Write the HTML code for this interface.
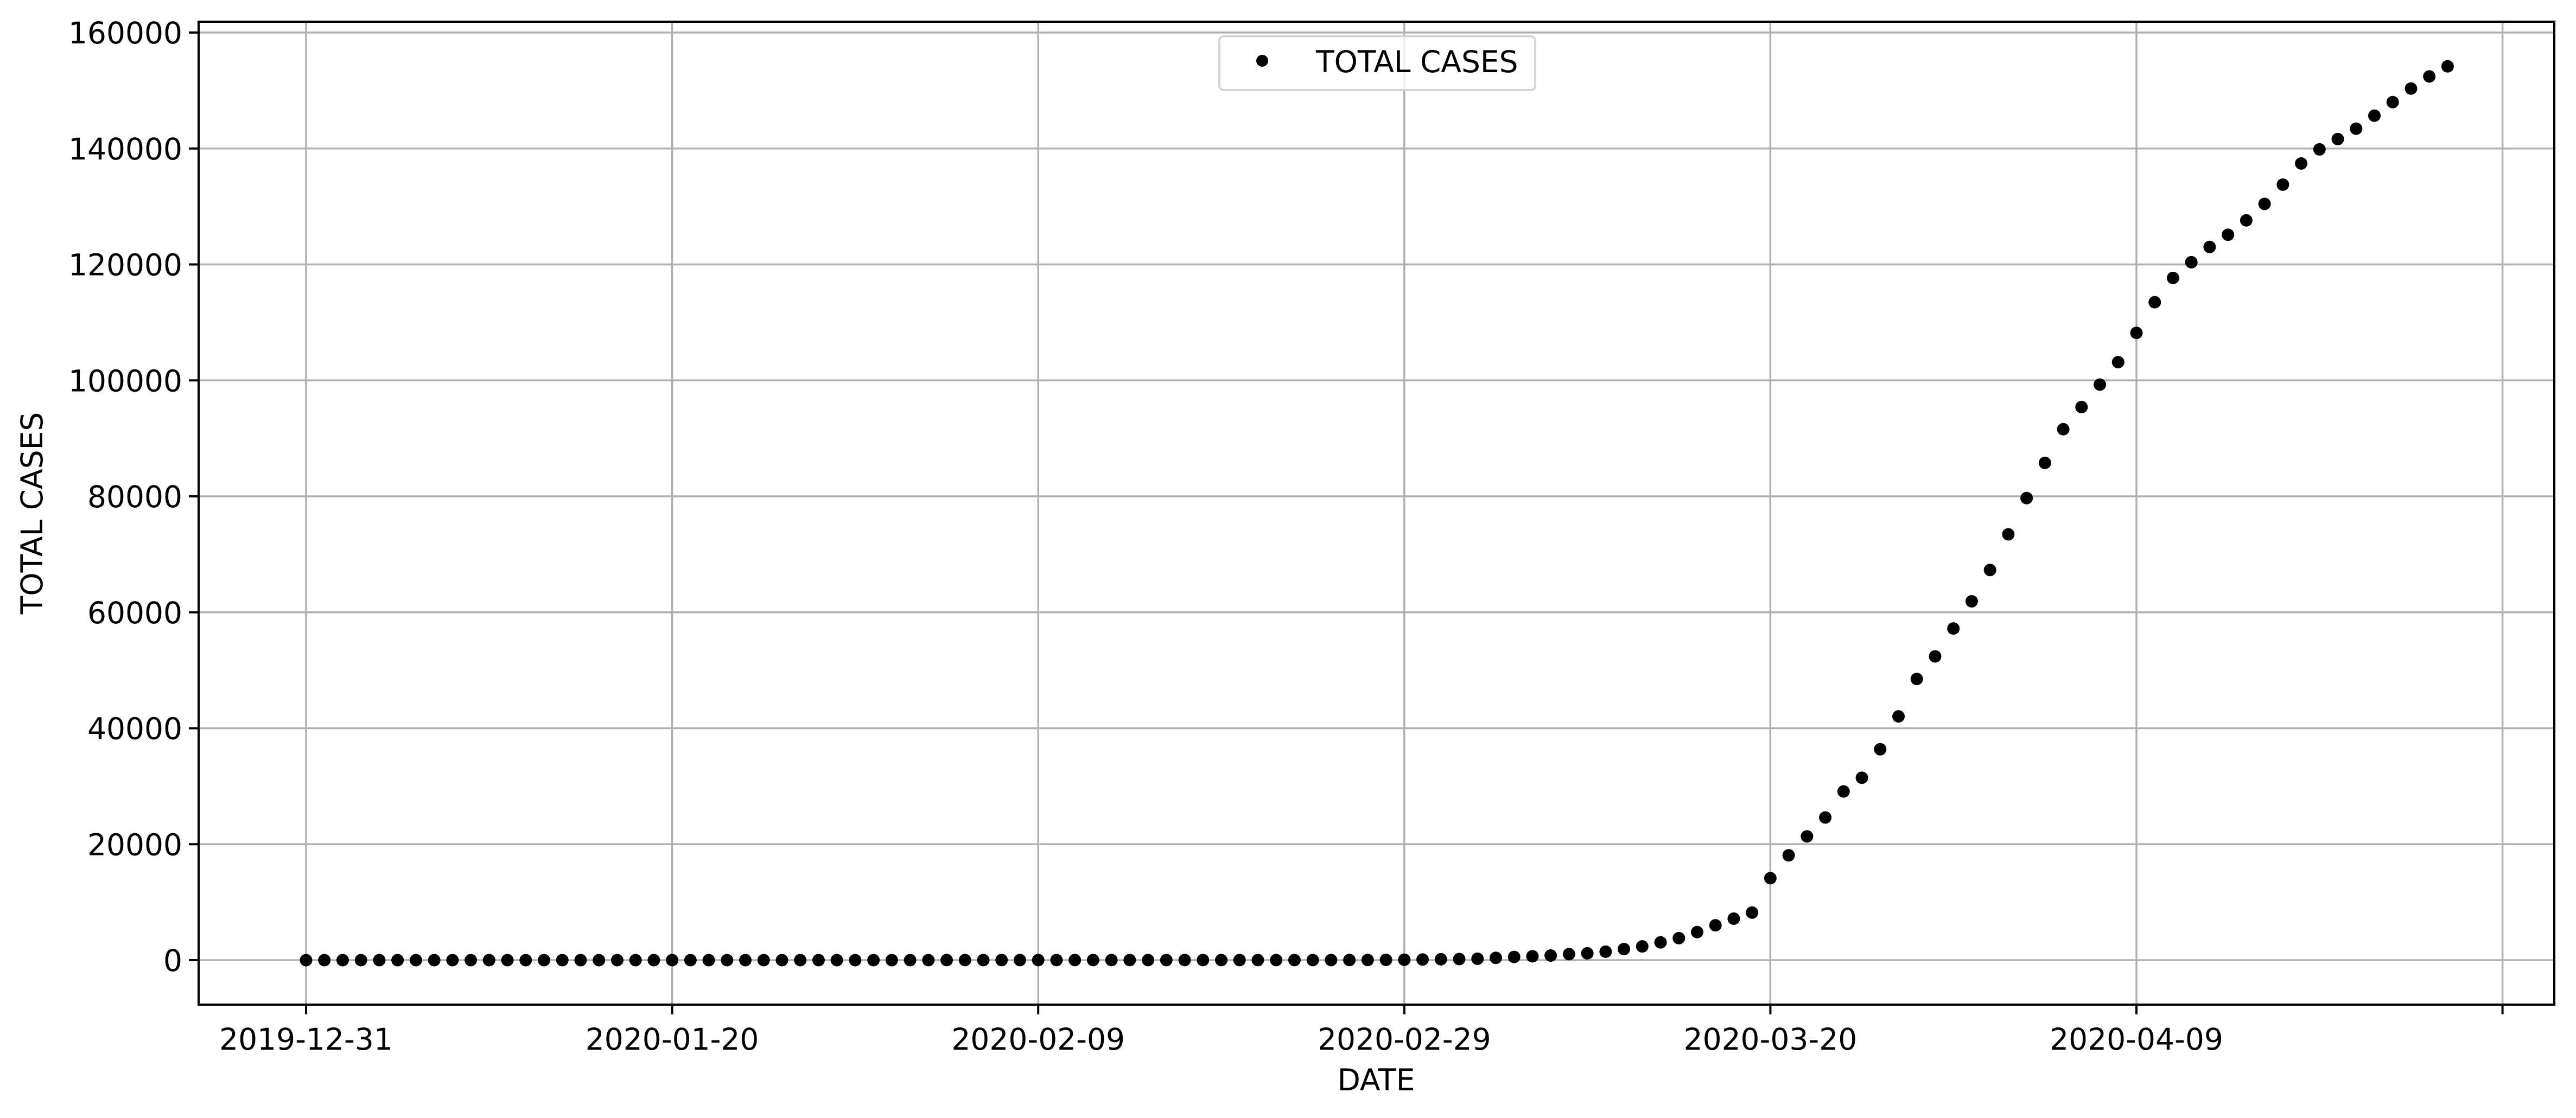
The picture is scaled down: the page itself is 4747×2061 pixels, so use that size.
<!DOCTYPE html>
<html><head><meta charset="utf-8"><style>
html,body{margin:0;padding:0;background:#fff;}
svg{display:block;}
text{font-family:"DejaVu Sans","Liberation Sans",sans-serif;fill:#000;}
</style></head><body>
<svg id="chart" width="4747" height="2061" viewBox="0 0 4747 2061" xmlns="http://www.w3.org/2000/svg">
<g id="grid"></g>
<g id="marks"></g>
<g id="axes"></g>
<text x="0" y="0" font-size="55" text-anchor="middle" transform="translate(78,946) rotate(-90)">TOTAL CASES</text>
<text x="2536" y="2010" font-size="55" text-anchor="middle">DATE</text>
<g>
<rect x="2247" y="67" width="582" height="99" rx="8" fill="#fff" fill-opacity="0.8" stroke="#d5d5d5" stroke-width="4"/>
<circle cx="2326" cy="112" r="11" fill="#000"/>
<text x="2425" y="133" font-size="55">TOTAL CASES</text>
</g>
</svg>
<script>
const values = [0,0,0,0,0,0,0,0,0,0,0,0,0,0,0,0,0,0,0,0,0,0,0,0,0,0,0,0,
1,1,4,4,4,5,5,7,8,10,12,12,12,12,13,13,14,14,16,16,16,16,16,16,16,16,16,16,16,
18,26,48,66,117,150,188,240,400,545,670,800,1040,1176,1457,1908,2369,3062,3795,4838,6012,7156,8198,14138,
18080,21350,24610,29100,31460,36380,42050,48500,52400,57200,61900,67300,73450,79700,85780,91580,95400,99270,103150,108200,
113480,117670,120390,123020,125120,127600,130450,133770,137420,139850,141630,143410,145660,148000,150340,152430,154170];
const yTicks = [0,20000,40000,60000,80000,100000,120000,140000,160000];
const xTickDays = [0,20,40,60,80,100,120];
const xTickLabels = ["2019-12-31","2020-01-20","2020-02-09","2020-02-29","2020-03-20","2020-04-09",""];

const L=366,R=4707,T=40,B=1852;
const x0=564, pxPerDay=33.73, y0=1770, pxPerUnit=213.75/20000;
const xs=d=>x0+d*pxPerDay;
const ys=v=>y0-v*pxPerUnit;
const NS="http://www.w3.org/2000/svg";
function mk(tag,attrs,parent){const e=document.createElementNS(NS,tag);for(const k in attrs)e.setAttribute(k,attrs[k]);parent.appendChild(e);return e;}
const grid=document.getElementById('grid'),marks=document.getElementById('marks'),axes=document.getElementById('axes');
yTicks.forEach(v=>{
  const y=ys(v);
  const g=mk('line',{x1:L,x2:R,y1:y,y2:y,stroke:'#b0b0b0','stroke-width':3.5},grid);
  
  
  const t=mk('line',{x1:L-18,x2:L,y1:y,y2:y,stroke:'#000','stroke-width':4},axes);
  
  
  const lb=mk('text',{x:L-30,y:y+20,'font-size':55,'text-anchor':'end'},axes);
  lb.textContent=v;
  
  
});
xTickDays.forEach((d,i)=>{
  const x=xs(d);
  const g=mk('line',{x1:x,x2:x,y1:T,y2:B,stroke:'#b0b0b0','stroke-width':3.5},grid);
  
  
  const t=mk('line',{x1:x,x2:x,y1:B,y2:B+18,stroke:'#000','stroke-width':4},axes);
  
  
  const lb=mk('text',{x:x,y:1935,'font-size':55,'text-anchor':'middle'},axes);
  lb.textContent=xTickLabels[i];
  
  
});
values.forEach((v,d)=>{
  const c=mk('circle',{cx:xs(d),cy:ys(v),r:11.5,fill:'#000'},marks);
  
  
});
const fr=mk('rect',{x:L,y:T,width:R-L,height:B-T,fill:'none',stroke:'#000','stroke-width':4},axes);


</script>
</body></html>
